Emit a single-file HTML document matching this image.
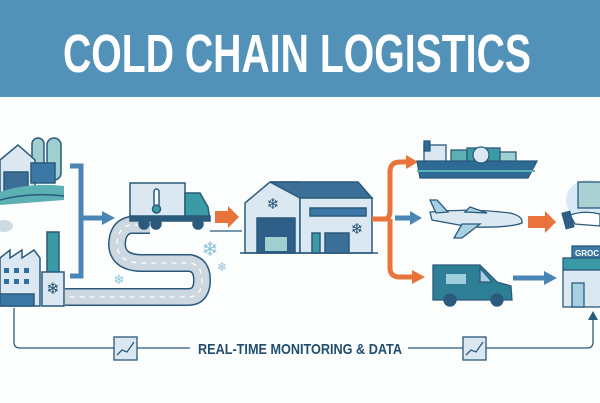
<!DOCTYPE html>
<html><head><meta charset="utf-8"><style>
html,body{margin:0;padding:0;background:#fcfdfd;}
svg{display:block}
</style></head><body>
<svg width="600" height="403" viewBox="0 0 600 403" xmlns="http://www.w3.org/2000/svg">
<rect width="600" height="403" fill="#fcfdfd"/>
<rect width="600" height="97" fill="#5392b8"/>
<text x="297" y="72" text-anchor="middle" fill="#fff" font-family="'Liberation Sans Narrow','Liberation Sans',sans-serif" font-weight="bold" font-size="54" textLength="468" lengthAdjust="spacingAndGlyphs">COLD CHAIN LOGISTICS</text>

<g stroke="#2a5a7c" stroke-width="1.5">
<!-- farm -->
<rect x="32" y="138" width="12" height="42" rx="6" fill="#9fcfcf"/>
<rect x="47" y="138" width="14" height="42" rx="7" fill="#9fcfcf"/>
<path d="M0 160 L18 145 L35 160 L35 195 L0 195 Z" fill="#dbe8f1"/>
<rect x="4" y="172" width="24" height="22" fill="#3b6f98"/>
<rect x="31" y="163" width="24" height="20" fill="#3b78a5"/>
<path d="M0 192 Q30 182 64 186 L64 200 L0 205Z" fill="#5db0b4" stroke="none"/>
<path d="M0 200 Q30 192 64 196" fill="none"/>
<!-- blob -->
<ellipse cx="4" cy="226" rx="9" ry="6" fill="#cfdbe4" stroke="none"/>
<!-- factory -->
<rect x="47" y="232" width="12" height="42" fill="#3a9aa5"/>
<path d="M0 258 L10 250 L10 258 L22 250 L22 258 L34 250 L40 258 L40 306 L0 306Z" fill="#dbe8f1"/>
<rect x="0" y="294" width="34" height="12" fill="#3b78a5"/>
<rect x="42" y="272" width="22" height="34" fill="#dbe8f1"/>
</g>
<g fill="#2f6f9a"><rect x="4" y="268" width="5" height="5"/><rect x="14" y="268" width="5" height="5"/><rect x="24" y="268" width="5" height="5"/><rect x="4" y="279" width="5" height="5"/><rect x="14" y="279" width="5" height="5"/><rect x="24" y="279" width="5" height="5"/></g>
<text x="53" y="294" font-size="16" text-anchor="middle" fill="#1f4e6e" font-family="DejaVu Sans">❄</text>

<!-- bracket -->
<path d="M70 166 L81 166 L81 276 L70 276 M81 218 L103 218" fill="none" stroke="#4a86b5" stroke-width="5"/>
<path d="M102 211 L115 218 L102 225Z" fill="#4a86b5"/>

<!-- road -->
<path d="M150 225 L130 225 Q117 228 117 245 Q118 262 140 263 L190 263 Q202 265 202 280 Q202 297 188 297 L65 297" fill="none" stroke="#2a5a7c" stroke-width="18"/>
<path d="M150 225 L130 225 Q117 228 117 245 Q118 262 140 263 L190 263 Q202 265 202 280 Q202 297 188 297 L65 297" fill="none" stroke="#cdd7e0" stroke-width="15"/>
<path d="M150 225 L130 225 Q117 228 117 245 Q118 262 140 263 L190 263 Q202 265 202 280 Q202 297 188 297 L65 297" fill="none" stroke="#fff" stroke-width="1.3" stroke-dasharray="5 5"/>
<path d="M210 231 L242 231" stroke="#2a5a7c" stroke-width="1.2"/>
<!-- truck -->
<g stroke="#2a5a7c" stroke-width="1.5">
<rect x="130" y="183" width="55" height="35" fill="#dbe8f1"/>
<path d="M185 193 L200 193 L208 207 L210 220 L185 220Z" fill="#3a9aa5"/>
<rect x="130" y="216" width="80" height="5" fill="#2a5a7c"/>
<circle cx="144" cy="224" r="5" fill="#2a5a7c"/><circle cx="156" cy="224" r="5" fill="#2a5a7c"/><circle cx="198" cy="224" r="5" fill="#2a5a7c"/>
<rect x="154" y="189" width="5" height="18" rx="2.5" fill="#fff"/>
<circle cx="156.5" cy="209" r="4" fill="#3a9aa5"/>
</g>
<path d="M215 211 L228 211 L228 206 L239 217 L228 228 L228 223 L215 223Z" fill="#e8743b"/>
<g font-family="DejaVu Sans" fill="#8cc4dc" text-anchor="middle"><text x="210" y="256" font-size="20">❄</text><text x="222" y="271" font-size="12">❄</text><text x="119" y="284" font-size="13">❄</text></g>

<!-- warehouse -->
<g stroke="#2a5a7c" stroke-width="1.5">
<path d="M245 203 L270 182 L300 182 L300 253 L245 253Z" fill="#dbe8f1"/>
<path d="M270 182 L358 182 L372 198 L300 198 L270 182Z" fill="#3b6f98"/>
<rect x="300" y="198" width="72" height="55" fill="#dbe8f1"/>
<rect x="257" y="218" width="38" height="35" fill="#2d5f88"/>
<rect x="310" y="208" width="56" height="8" fill="#3b78a5"/>
<rect x="312" y="233" width="8" height="20" fill="#3a9aa5"/>
<rect x="325" y="233" width="24" height="20" fill="#3b6f98"/>
<path d="M240 253 L378 253"/>
</g>
<rect x="265" y="237" width="22" height="14" fill="#9fcfcf"/>
<g font-family="DejaVu Sans" fill="#1f4e6e" text-anchor="middle" font-size="15"><text x="273" y="209">❄</text><text x="357" y="234">❄</text></g>

<!-- orange branches -->
<path d="M372 219 L385 219 Q390 219 390 210 L390 172 Q390 162 400 162 L408 162 M390 219 L390 268 Q390 277 400 277 L414 277" fill="none" stroke="#e8743b" stroke-width="5"/>
<path d="M406 155 L418 162 L406 169Z M412 270 L425 277 L412 284Z" fill="#e8743b"/>
<path d="M395 218 L412 218" stroke="#4a86b5" stroke-width="5"/><path d="M410 211 L422 218 L410 225Z" fill="#4a86b5"/>

<!-- ship -->
<g stroke="#2a5a7c" stroke-width="1.3">
<path d="M417 161 L537 161 L528 178 L420 178Z" fill="#2d6a94"/>
<rect x="424" y="145" width="22" height="16" fill="#dbe8f1"/>
<rect x="424" y="141" width="6" height="10" fill="#2d6a94"/>
<rect x="451" y="150" width="16" height="11" fill="#5db0b4"/>
<rect x="467" y="148" width="33" height="13" fill="#3a9aa5"/>
<rect x="500" y="152" width="16" height="9" fill="#9fcfcf"/>
<circle cx="481" cy="155" r="8" fill="#dbe8f1"/>
</g>
<path d="M417 171 L535 171" stroke="#5db0b4" stroke-width="2"/>

<!-- plane -->
<g stroke="#2a5a7c" stroke-width="1.3">
<path d="M430 212 Q470 208 510 213 Q523 216 522 223 Q510 228 470 227 L432 220Z" fill="#dbe8f1"/>
<path d="M430 200 L437 200 L448 212 L436 213Z" fill="#a9cfe3"/>
<path d="M462 224 L480 224 L462 238 L454 238Z" fill="#a9cfe3"/>
<path d="M465 212 L470 207 L487 213Z" fill="#a9cfe3"/>
</g>
<path d="M528 216 L545 216 L545 211 L556 222 L545 233 L545 228 L528 228Z" fill="#e8743b"/>

<!-- hand + box -->
<ellipse cx="588" cy="200" rx="22" ry="20" fill="#d6e9f4"/>
<g stroke="#2a5a7c" stroke-width="1.3">
<rect x="578" y="182" width="24" height="26" fill="#a9d0d2"/>
<path d="M570 215 Q585 210 600 214 L600 226 L575 224Z" fill="#fff"/>
<rect x="564" y="212" width="8" height="16" fill="#2d5f88" transform="rotate(-15 568 220)"/>
</g>

<!-- van -->
<g stroke="#2a5a7c" stroke-width="1.3">
<path d="M433 265 L480 265 L497 282 L511 286 L512 300 L433 300Z" fill="#2e7e96"/>
<path d="M480 268 L492 282 L480 282Z" fill="#a9cfe3"/>
<circle cx="450" cy="300" r="6" fill="#2a5a7c"/><circle cx="497" cy="300" r="6" fill="#2a5a7c"/>
</g>
<rect x="446" y="274" width="20" height="10" fill="#9fcfdc"/>
<path d="M513 278 L545 278" stroke="#4a86b5" stroke-width="5"/><path d="M544 271 L557 278 L544 285Z" fill="#4a86b5"/>

<!-- grocery -->
<g stroke="#2a5a7c" stroke-width="1.3">
<rect x="572" y="246" width="30" height="12" fill="#3b78a5"/>
<rect x="563" y="258" width="40" height="12" fill="#3a9aa5"/>
<rect x="563" y="270" width="40" height="37" fill="#dbe8f1"/>
<rect x="572" y="283" width="12" height="24" fill="#a9cfe3"/>
</g>
<text x="575" y="256" font-family="'Liberation Sans',sans-serif" font-weight="bold" font-size="8" fill="#fff">GROC</text>

<!-- monitoring line -->
<path d="M14 308 L14 342 Q14 348 20 348 L190 348 M408 348 L587 348 Q593 348 593 342 L593 318" fill="none" stroke="#2a5a7c" stroke-width="1.3"/>
<path d="M588 320 L593 311 L598 320Z" fill="#2a5a7c"/>
<g stroke="#2a5a7c" stroke-width="1.3" fill="#dbe8f1">
<rect x="114" y="337" width="23" height="23"/><rect x="463" y="337" width="23" height="23"/>
</g>
<path d="M117 355 L122 350 L127 352 L134 342 M466 355 L471 350 L476 352 L483 342" fill="none" stroke="#2a5a7c" stroke-width="1.3"/>
<text x="300" y="354" text-anchor="middle" font-family="'Liberation Sans Narrow','Liberation Sans',sans-serif" font-weight="bold" font-size="15" fill="#1f4e6e" textLength="204" lengthAdjust="spacingAndGlyphs">REAL-TIME MONITORING &amp; DATA</text>
</svg>
</body></html>
